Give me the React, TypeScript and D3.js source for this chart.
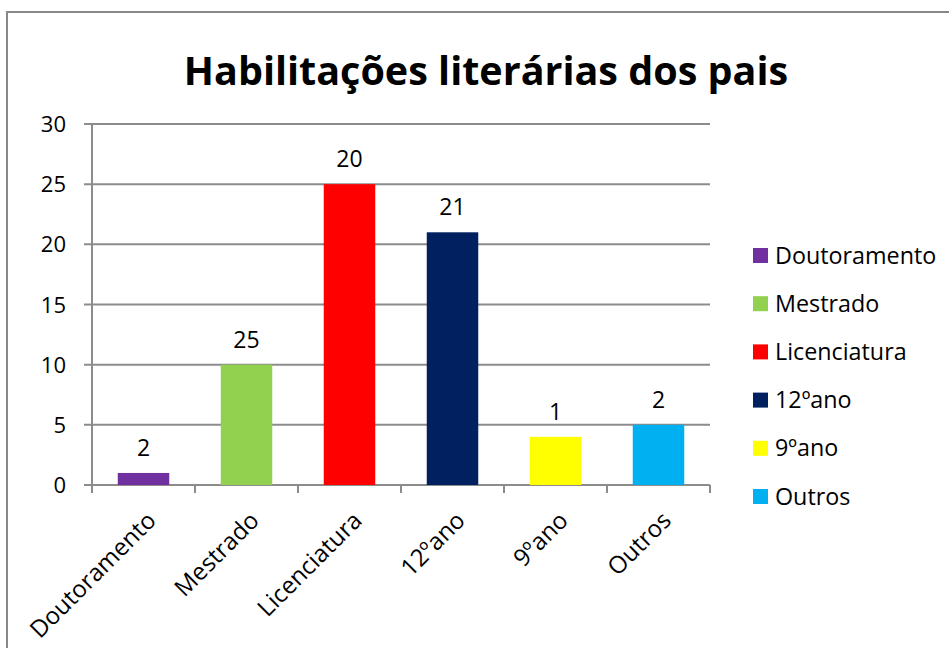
import React from "react";
import * as d3 from "d3";

const categories = ["Doutoramento", "Mestrado", "Licenciatura", "12ºano", "9ºano", "Outros"];
const barValues = [1, 10, 25, 21, 4, 5];
const labelValues = [2, 25, 20, 21, 1, 2];
const colors = ["#7030A0", "#92D050", "#FF0000", "#002060", "#FFFF00", "#00B0F0"];
const yTicks = [0, 5, 10, 15, 20, 25, 30];
const title = "Habilitações literárias dos pais";

const W = 949, H = 648;
const FONT = "'Open Sans', Lato, sans-serif";

export default function App() {
  const x = d3.scaleBand<string>().domain(categories).range([92, 710]).paddingInner(0.5).paddingOuter(0.25);
  const xOuter = d3.scaleBand<string>().domain(categories).range([92, 710]);
  const y = d3.scaleLinear().domain([0, 30]).range([485, 124]);
  const grid = "#8c8c8c";
  return (
    <svg width={W} height={H} style={{ position: "absolute", left: 0, top: 0 }} fontFamily={FONT}>
      <rect x={0} y={0} width={W} height={H} fill="#fff" />
      <rect x={7} y={12} width={W + 20} height={H + 20} fill="none" stroke="#888" strokeWidth={2} />
      <text x={486} y={85} textAnchor="middle" fontSize={39.5} fontWeight="bold" fill="#000">{title}</text>
      {yTicks.map((t) => (
        <g key={t}>
          <line x1={84} x2={710} y1={y(t)} y2={y(t)} stroke={grid} strokeWidth={2} />
          <text x={66} y={y(t) + 8} textAnchor="end" fontSize={22} fill="#000">{t}</text>
        </g>
      ))}
      <line x1={92} x2={92} y1={124} y2={493} stroke={grid} strokeWidth={2} />
      {categories.map((c, i) => (
        <line key={"t" + i} x1={xOuter(c)! + xOuter.bandwidth()} x2={xOuter(c)! + xOuter.bandwidth()} y1={485} y2={493} stroke={grid} strokeWidth={2} />
      ))}
      {categories.map((c, i) => (
        <rect key={c} x={x(c)} y={y(barValues[i])} width={x.bandwidth()} height={y(0) - y(barValues[i])} fill={colors[i]} />
      ))}
      {categories.map((c, i) => (
        <text key={"l" + c} x={x(c)! + x.bandwidth() / 2} y={y(barValues[i]) - 17} textAnchor="middle" fontSize={23} fill="#000">{labelValues[i]}</text>
      ))}
      {categories.map((c, i) => {
        const cx = xOuter(c)! + xOuter.bandwidth() / 2 + 14;
        const cy = 522;
        return (
          <text key={"x" + c} transform={`translate(${cx},${cy}) rotate(-45)`} textAnchor="end" fontSize={24} fill="#000">{c}</text>
        );
      })}
      {categories.map((c, i) => (
        <g key={"g" + c} transform={`translate(753,${255 + i * 48.2})`}>
          <rect x={0} y={-7} width={15} height={15} fill={colors[i]} />
          <text x={22} y={8.5} fontSize={23.3} fill="#000">{c}</text>
        </g>
      ))}
    </svg>
  );
}
